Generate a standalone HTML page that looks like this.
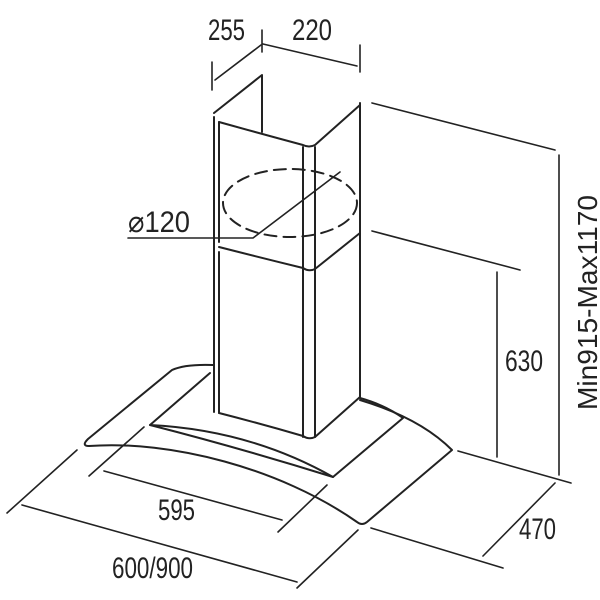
<!DOCTYPE html>
<html><head><style>body{margin:0;background:#fff}svg{display:block}text{font-family:"Liberation Sans",sans-serif;font-size:30px;fill:#222}</style></head><body>
<svg width="600" height="600" viewBox="0 0 600 600" fill="none" stroke="#222" stroke-width="2" stroke-linejoin="round" stroke-linecap="round">
<!-- chimney -->
<path d="M214,117 L214,412"/>
<path d="M219,122 L219,242 M219,252 L219,413"/>
<path d="M214,113 L262,75 L262,132"/>
<path d="M219,122 Q262,134 303,145 Q309,148 315,145 L360,105"/>
<path d="M303,147 L303,437 M315,147 L315,437"/>
<path d="M360,103 L360,397"/>
<path d="M219,247 Q262,258 303,268 Q309,272 315,269 L360,233"/>
<path d="M219,413 Q262,424 303,436 Q309,440 315,437 L360,397"/>
<!-- ellipse & diameter -->
<ellipse cx="290" cy="203" rx="67" ry="34" stroke-dasharray="12,7"/>
<path d="M340,172 L253,238 L128,238" stroke-width="1.6"/>
<!-- canopy -->
<path d="M213,365 Q185,364 172,370 L88,439 Q81,446 89,446 C170,440 280,468 357,522 Q362,526 367,522 L452,450 Q420,418 360,400"/>
<path d="M210,373 L150,425 Q250,430 333,477 L403,418 Q385,405 360,398"/>
<path d="M150,425 Q240,448 333,477"/>
<!-- dimension lines -->
<g stroke-width="1.6">
<path d="M212,62 L212,90 M262,30 L262,52 M360,45 L360,72"/>
<path d="M215,80 L261,45 M263,44 L357,66"/>
<path d="M372,103 L555,150 M372,231 L520,270 M458,451 L571,483"/>
<path d="M559,155 L559,475 M497,272 L497,457"/>
<path d="M555,483 L483,556 M371,528 L503,568"/>
<path d="M77,450 L7,513 M22,505 L297,582 M358,530 L297,588"/>
<path d="M144,427 L89,476 M104,471 L282,520 M327,485 L278,532"/>
</g>
<g stroke="none">
<text x="208" y="40" textLength="37" lengthAdjust="spacingAndGlyphs">255</text>
<text x="292" y="40" textLength="40" lengthAdjust="spacingAndGlyphs">220</text>
<text x="128" y="232" textLength="62" lengthAdjust="spacingAndGlyphs">⌀120</text>
<text x="505" y="371" textLength="38" lengthAdjust="spacingAndGlyphs">630</text>
<text x="158" y="520" textLength="37" lengthAdjust="spacingAndGlyphs">595</text>
<text x="519" y="539" textLength="37" lengthAdjust="spacingAndGlyphs">470</text>
<text x="112" y="578" textLength="81" lengthAdjust="spacingAndGlyphs">600/900</text>
<text transform="translate(597,410) rotate(-90)" style="font-size:28px" textLength="215" lengthAdjust="spacingAndGlyphs">Min915-Max1170</text>
</g>
</svg>
</body></html>
